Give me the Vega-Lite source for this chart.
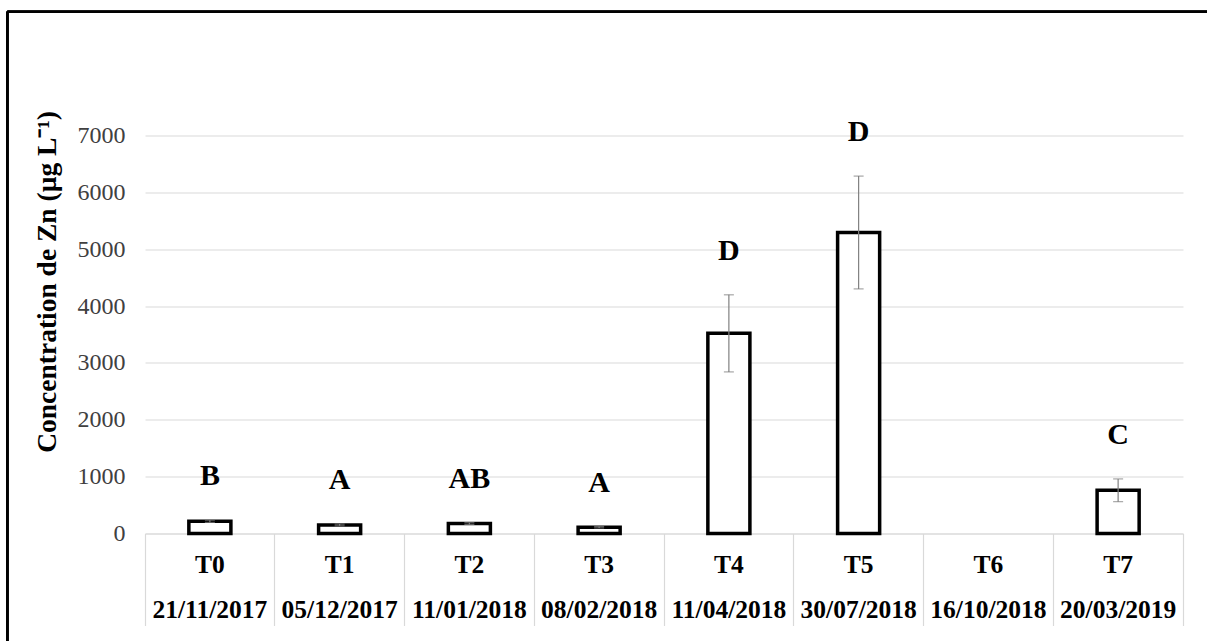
{
  "$schema": "https://vega.github.io/schema/vega-lite/v6.json",
  "width": 1038,
  "height": 398,
  "autosize": {"type": "none"},
  "padding": {"left": 145, "top": 135.5, "right": 24, "bottom": 107.5},
  "background": "white",
  "config": {"view": {"stroke": null}, "font": "Liberation Serif"},
  "data": {
    "values": [
      {"t": "T0", "date": "21/11/2017", "mean": 215, "err": 20, "letter": "B"},
      {"t": "T1", "date": "05/12/2017", "mean": 150, "err": 15, "letter": "A"},
      {"t": "T2", "date": "11/01/2018", "mean": 175, "err": 15, "letter": "AB"},
      {"t": "T3", "date": "08/02/2018", "mean": 110, "err": 12, "letter": "A"},
      {"t": "T4", "date": "11/04/2018", "mean": 3520, "err": 678, "letter": "D"},
      {"t": "T5", "date": "30/07/2018", "mean": 5294, "err": 992, "letter": "D"},
      {"t": "T6", "date": "16/10/2018", "mean": null, "err": null, "letter": ""},
      {"t": "T7", "date": "20/03/2019", "mean": 760, "err": 200, "letter": "C"}
    ]
  },
  "layer": [
    {
      "mark": {"type": "bar", "fill": "white", "stroke": "black", "strokeWidth": 3.5, "width": {"band": 0.324}},
      "encoding": {
        "x": {
          "field": "t", "type": "nominal",
          "scale": {"paddingInner": 0, "paddingOuter": 0},
          "axis": {
            "title": null, "labels": false, "grid": false,
            "domainColor": "#d9d9d9", "domainWidth": 1.2,
            "ticks": true, "tickColor": "#d9d9d9", "tickWidth": 1.2, "tickSize": 92,
            "bandPosition": 1, "tickExtra": true
          }
        },
        "y": {
          "field": "mean", "type": "quantitative",
          "title": "Concentration de Zn (µg L⁻¹)",
          "scale": {"domain": [0, 7000], "nice": false, "zero": true},
          "axis": {
            "values": [0, 1000, 2000, 3000, 4000, 5000, 6000, 7000],
            "format": "d",
            "grid": true, "gridColor": "#d9d9d9", "gridWidth": 1.2,
            "domain": false, "ticks": false, "labelPadding": 20,
            "labelFont": "Liberation Serif", "labelFontSize": 24, "labelColor": "#404040",
            "titleFont": "Liberation Serif", "titleFontSize": 27.5, "titleFontWeight": "bold", "titleColor": "black",
            "titleX": -98, "titleY": 146, "titleAngle": -90, "titleAlign": "center", "titleBaseline": "middle"
          }
        }
      }
    },
    {
      "transform": [{"filter": "isValid(datum.mean)"}],
      "mark": {
        "type": "errorbar",
        "color": "#808080",
        "ticks": {"size": 10, "thickness": 1.2},
        "rule": {"strokeWidth": 1.2}
      },
      "encoding": {
        "x": {"field": "t", "type": "nominal"},
        "y": {"field": "mean", "type": "quantitative", "title": "Concentration de Zn (µg L⁻¹)"},
        "yError": {"field": "err"}
      }
    },
    {
      "transform": [
        {"filter": "datum.letter != ''"},
        {"calculate": "datum.mean + datum.err", "as": "top"}
      ],
      "mark": {"type": "text", "font": "Liberation Serif", "fontWeight": "bold", "fontSize": 30, "baseline": "middle", "dy": -44, "color": "black"},
      "encoding": {
        "x": {"field": "t", "type": "nominal"},
        "y": {"field": "top", "type": "quantitative", "title": "Concentration de Zn (µg L⁻¹)"},
        "text": {"field": "letter"}
      }
    },
    {
      "mark": {"type": "text", "font": "Liberation Serif", "fontWeight": "bold", "fontSize": 25.5, "baseline": "middle", "color": "black"},
      "encoding": {
        "x": {"field": "t", "type": "nominal"},
        "y": {"datum": -560},
        "text": {"field": "t"}
      }
    },
    {
      "mark": {"type": "text", "font": "Liberation Serif", "fontWeight": "bold", "fontSize": 25.5, "baseline": "middle", "color": "black"},
      "encoding": {
        "x": {"field": "t", "type": "nominal"},
        "y": {"datum": -1340},
        "text": {"field": "date"}
      }
    },
    {
      "mark": {"type": "rule", "color": "black", "strokeWidth": 2},
      "encoding": {
        "x": {"datum": "T0", "bandPosition": -1.061},
        "x2": {"datum": "T7", "bandPosition": 1.25},
        "y": {"datum": 9176}
      }
    },
    {
      "mark": {"type": "rule", "color": "black", "strokeWidth": 2},
      "encoding": {
        "x": {"datum": "T0", "bandPosition": -1.061},
        "y": {"datum": 9176},
        "y2": {"datum": -2000}
      }
    }
  ]
}
